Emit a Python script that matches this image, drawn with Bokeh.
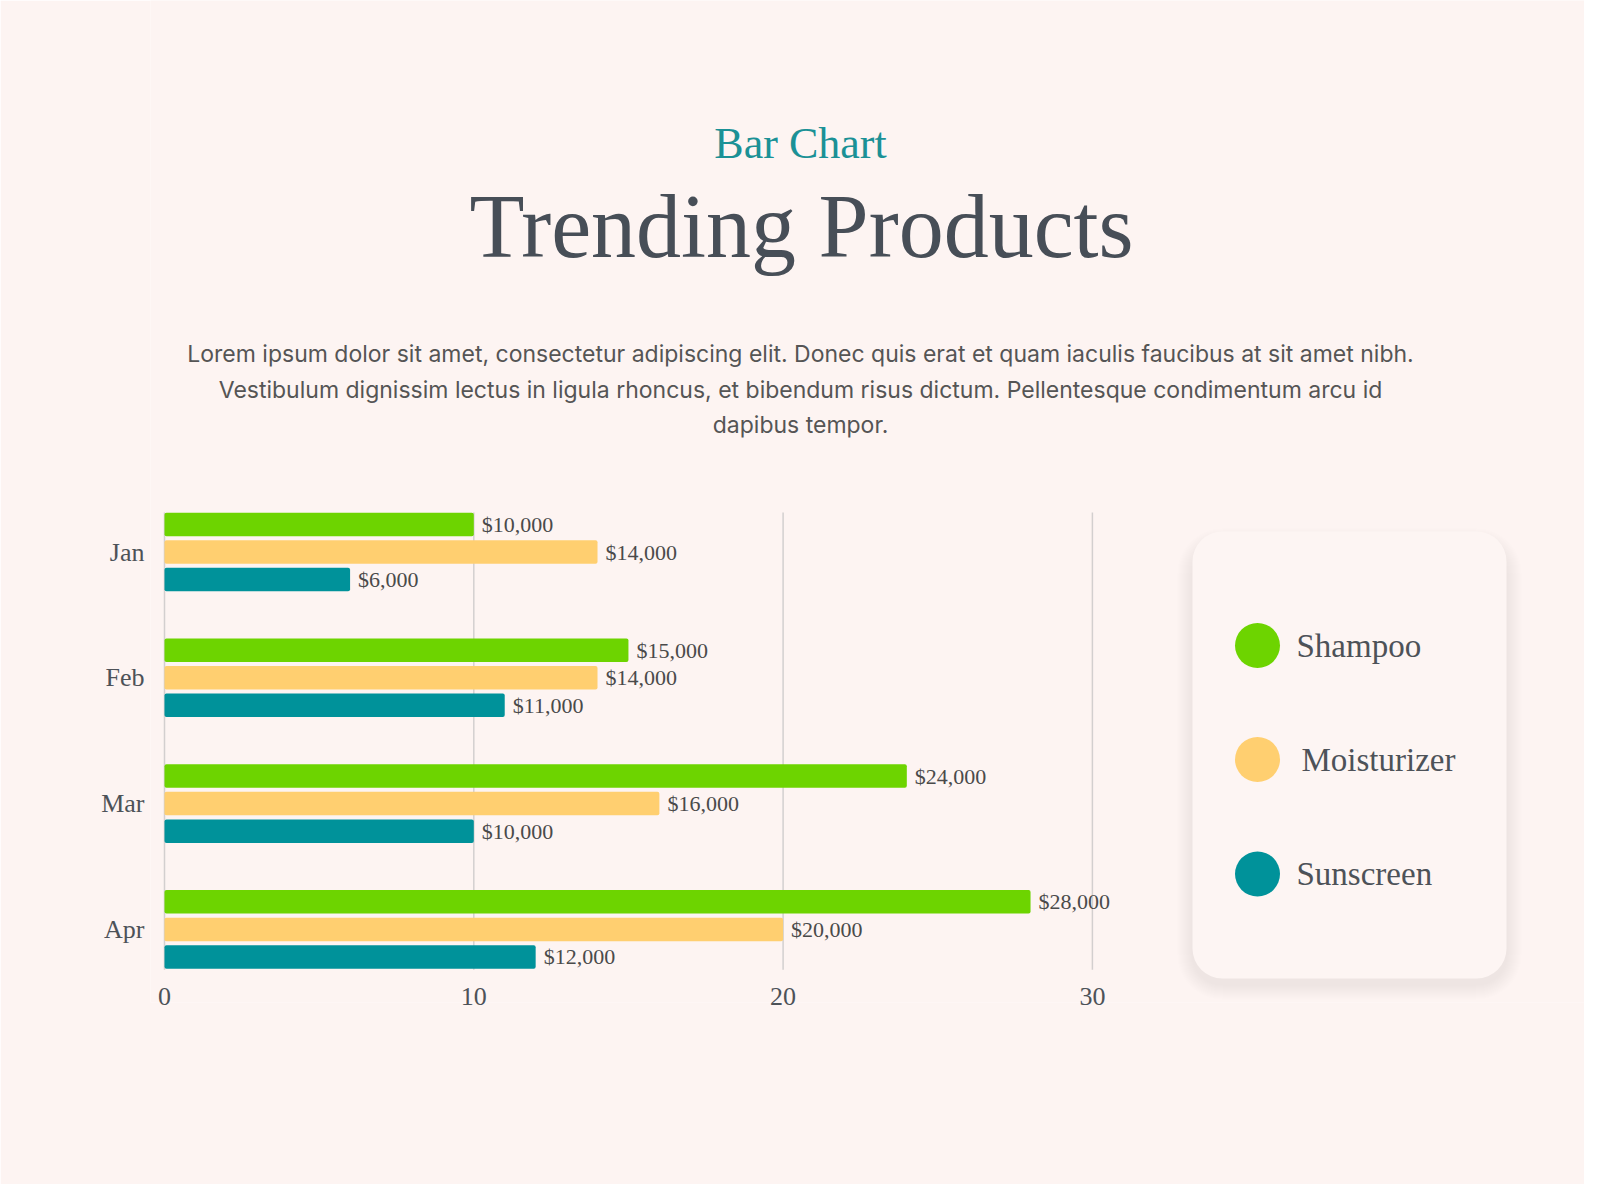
from bokeh.plotting import figure
from bokeh.models import Range1d, FixedTicker, ColumnDataSource
from bokeh.embed import file_html
from bokeh.resources import INLINE
from bokeh.core.properties import value

# data (values in thousands of dollars)
months = ["Jan", "Feb", "Mar", "Apr"]
series = ["Shampoo", "Moisturizer", "Sunscreen"]
shampoo = [10, 15, 24, 28]
moisturizer = [14, 14, 16, 20]
sunscreen = [6, 11, 10, 12]
x_ticks = [0, 10, 20, 30]
colors = ["#6dd400", "#ffcf70", "#00929a"]

subtitle = "Bar Chart"
title = "Trending Products"
paragraph = [
    "Lorem ipsum dolor sit amet, consectetur adipiscing elit. Donec quis erat et quam iaculis faucibus at sit amet nibh.",
    "Vestibulum dignissim lectus in ligula rhoncus, et bibendum risus dictum. Pellentesque condimentum arcu id",
    "dapibus tempor.",
]

BG = "#fdf4f2"
SERIF = "Liberation Serif"
TEXT = "#4d5258"

# one figure; the frame covers everything right of the month labels and
# above the x tick labels. "px" ranges are figure pixels for the decoration.
W, H = 1584, 1184
LEFT, BOTTOM = 150, 1002         # frame left / bottom in figure pixels
ZERO_X = 164                     # pixel x of value 0
PX_PER_UNIT = 30.93              # x scale: 10 units = 309 px
ROW_PX = 125.8                   # distance between month groups
JAN_Y = 551.5                    # pixel y of the first group

x_start = -(ZERO_X - LEFT) / PX_PER_UNIT
x_end = (W - ZERO_X) / PX_PER_UNIT
y_top = -JAN_Y / ROW_PX
y_bot = (BOTTOM - JAN_Y) / ROW_PX

p = figure(width=W, height=H, x_range=Range1d(x_start, x_end),
           y_range=Range1d(y_bot, y_top),
           min_border_left=LEFT, min_border_right=0, min_border_top=0,
           min_border_bottom=H - BOTTOM,
           output_backend="svg", toolbar_location=None)
p.extra_x_ranges = {"px": Range1d(LEFT, W)}
p.extra_y_ranges = {"px": Range1d(BOTTOM, 0)}
p.outline_line_color = None
p.background_fill_color = BG
p.border_fill_color = BG
p.grid.visible = False

# header
p.text(x=[800], y=[143], text=[subtitle], x_range_name="px", y_range_name="px",
       text_font=value(SERIF), text_font_size="44px", text_color="#1b9196",
       text_align="center", text_baseline="middle")
p.text(x=[801], y=[226], text=[title], x_range_name="px", y_range_name="px",
       text_font=value(SERIF), text_font_size="90px", text_color="#474e57",
       text_align="center", text_baseline="middle")
p.text(x=[800] * 3, y=[353, 389, 424.5], text=paragraph,
       x_range_name="px", y_range_name="px",
       text_font=value("Inter"), text_font_size="23px", text_color="#555555",
       text_align="center", text_baseline="middle")

# grid lines over the bar area only
grid_top = -0.313
grid_bot = len(months) - 1 + 0.32
p.segment(x0=x_ticks, x1=x_ticks, y0=[grid_top] * len(x_ticks),
          y1=[grid_bot] * len(x_ticks), line_color="#d3cfcf", line_width=1.5)

# bars
offsets = [-0.219, 0.0, 0.219]
for vals, off, col in zip([shampoo, moisturizer, sunscreen], offsets, colors):
    src = ColumnDataSource(dict(
        y=[i + off for i in range(len(months))],
        right=vals,
        label=["${:,}".format(v * 1000) for v in vals],
    ))
    p.hbar(y="y", left=0, right="right", height=0.187, source=src,
           fill_color=col, line_color=None, border_radius=2)
    p.text(x="right", y="y", text="label", source=src, x_offset=8,
           text_font=value(SERIF), text_font_size="22px",
           text_color="#4a4a4a", text_baseline="middle")

p.xaxis.ticker = FixedTicker(ticks=x_ticks)
p.xaxis.axis_line_color = None
p.xaxis.major_tick_line_color = None
p.xaxis.minor_tick_line_color = None
p.xaxis.major_tick_out = 0
p.xaxis.major_label_standoff = -3 - (BOTTOM - 990)
p.xaxis.major_label_text_font = SERIF
p.xaxis.major_label_text_font_size = "26px"
p.xaxis.major_label_text_color = TEXT

p.yaxis.ticker = FixedTicker(ticks=list(range(len(months))))
p.yaxis.major_label_overrides = {i: m for i, m in enumerate(months)}
p.yaxis.axis_line_color = None
p.yaxis.major_tick_line_color = None
p.yaxis.minor_tick_line_color = None
p.yaxis.major_tick_out = 0
p.yaxis.major_label_standoff = 20 - (ZERO_X - LEFT)
p.yaxis.major_label_text_font = SERIF
p.yaxis.major_label_text_font_size = "26px"
p.yaxis.major_label_text_color = TEXT

# legend card with a soft shadow
for i in range(1, 16):
    p.quad(left=1192 - i, right=1506 + i, top=531 + 12 - i, bottom=978 + 6 + i,
           x_range_name="px", y_range_name="px",
           fill_color="#6e6462", fill_alpha=0.008, line_color=None,
           border_radius=30 + i)
p.quad(left=1192, right=1506, top=531, bottom=978, x_range_name="px",
       y_range_name="px", fill_color="#fdf5f3", line_color=None,
       border_radius=30)
leg_y = [645, 759, 873.5]
p.scatter(x=[1257] * 3, y=leg_y, x_range_name="px", y_range_name="px",
          size=45, color=colors, line_color=None)
p.text(x=[1296, 1301, 1296], y=leg_y, text=series, x_range_name="px",
       y_range_name="px", text_font=value(SERIF), text_font_size="33px",
       text_color=TEXT, text_baseline="middle")

open("out.html", "w").write(file_html(p, INLINE))
